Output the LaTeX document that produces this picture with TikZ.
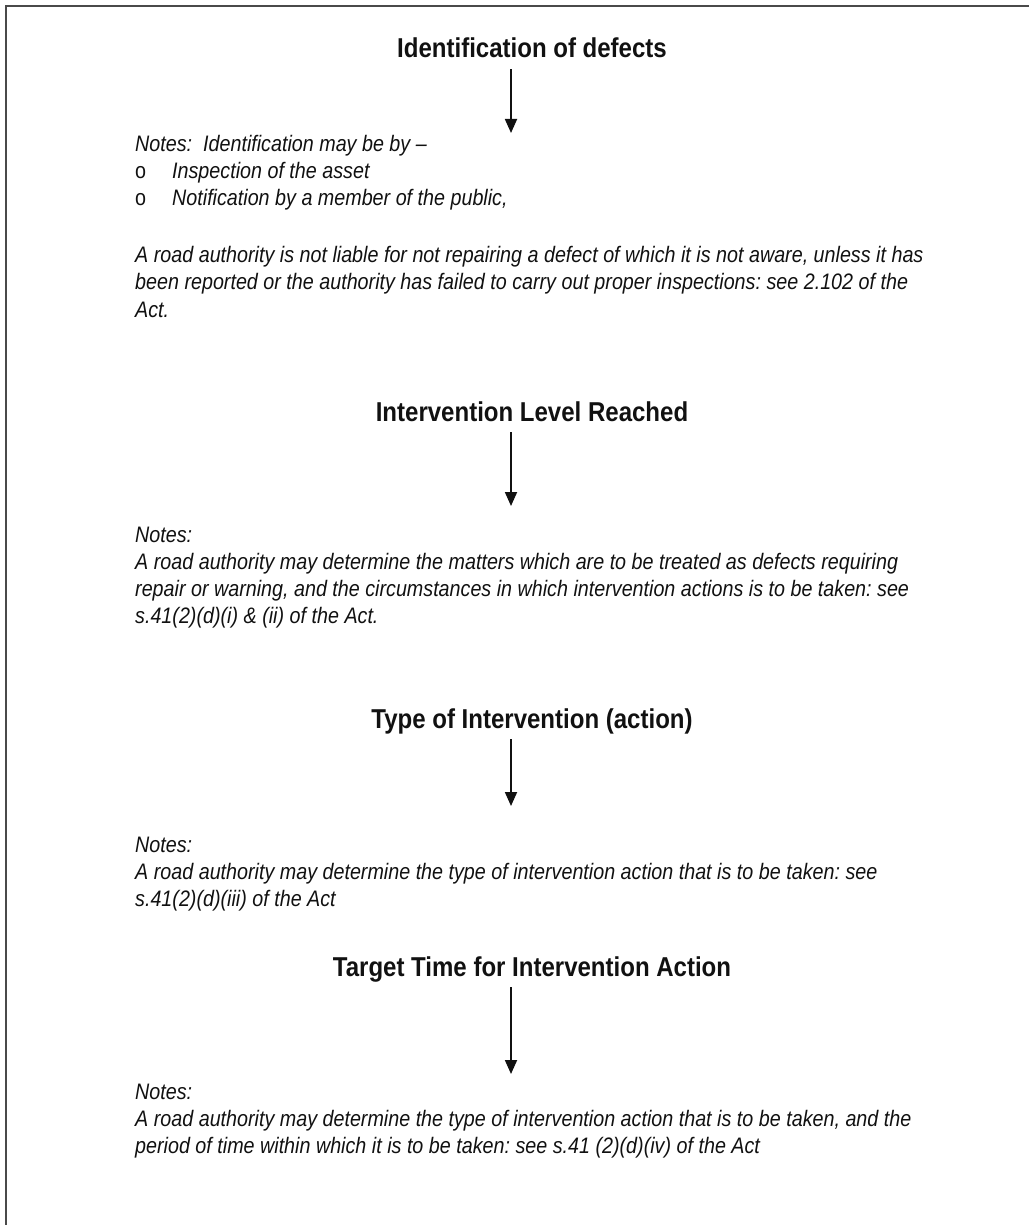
\documentclass[tikz,border=0pt]{standalone}
\usepackage{fontspec}
\setmainfont[FakeStretch=0.88]{Liberation Sans}
\usetikzlibrary{arrows.meta, positioning}
\definecolor{colFrame}{HTML}{4A4A4A}
\definecolor{colText}{HTML}{111111}
\newcommand\notegap{\frenchspacing\spaceskip=5.5pt plus 1pt\relax\xspaceskip=5.5pt\relax}

\begin{document}
\begin{tikzpicture}[
  x=1pt, y=1pt,
  >={Triangle[length=14pt, width=12pt]},
  headtext/.style={
    font=\fontsize{27.3pt}{32pt}\selectfont\bfseries,
    anchor=base, inner sep=0pt, text depth=0pt, text=colText
  },
  notetext/.style={
    font=\fontsize{22.4pt}{27pt}\selectfont\itshape,
    execute at begin node=\notegap,
    anchor=base west, inner sep=0pt, align=left,
    text width=900pt, text=colText
  },
  arrow/.style={->, line width=1.8pt, color=colText, shorten <=11pt},
  frame/.style={line width=2.6pt, color=colFrame},
]
\useasboundingbox (0,0) rectangle (1028,-1225);

%% ============================================================
%% Page frame (top and left edges only)
%% ============================================================
\draw[frame] (1032,-6) -| (6,-1232);

%% ============================================================
%% STEP 1 - Identification
%% ============================================================
\node[headtext] (ident) at (532,-58) {Identification of defects};
\coordinate (ident-tip) at (511,-133);

\node[notetext] (identNotes) at (135,-152)
  {Notes:\ \ Identification may be by --\\
   \makebox[37pt][l]{\upshape o}Inspection of the asset\\
   \makebox[37pt][l]{\upshape o}Notification by a member of the public,\\[30pt]
   A road authority is not liable for not repairing a defect of which it is not aware, unless it has\\
   been reported or the authority has failed to carry out proper inspections: see 2.102 of the\\
   Act.};

%% ============================================================
%% STEP 2 - Intervention level
%% ============================================================
\node[headtext] (level) at (532,-421) {Intervention Level Reached};
\coordinate (level-tip) at (511,-506);

\node[notetext] (levelNotes) at (135,-542)
  {Notes:\\
   A road authority may determine the matters which are to be treated as defects requiring\\
   repair or warning, and the circumstances in which intervention actions is to be taken: see\\
   s.41(2)(d)(i) \& (ii) of the Act.};

%% ============================================================
%% STEP 3 - Type of intervention
%% ============================================================
\node[headtext] (type) at (532,-728) {Type of Intervention (action)};
\coordinate (type-tip) at (511,-806);

\node[notetext] (typeNotes) at (135,-852)
  {Notes:\\
   A road authority may determine the type of intervention action that is to be taken: see\\
   s.41(2)(d)(iii) of the Act};

%% ============================================================
%% STEP 4 - Target time
%% ============================================================
\node[headtext] (target) at (532,-976) {Target Time for Intervention Action};
\coordinate (target-tip) at (511,-1074);

\node[notetext] (targetNotes) at (135,-1099)
  {Notes:\\
   A road authority may determine the type of intervention action that is to be taken, and the\\
   period of time within which it is to be taken: see s.41 (2)(d)(iv) of the Act};

%% ============================================================
%% ARROWS - heading down to its notes
%% ============================================================
\foreach \src in {ident, level, type, target}
  \draw[arrow] (\src.south -| \src-tip) -- (\src-tip);

\end{tikzpicture}
\end{document}
